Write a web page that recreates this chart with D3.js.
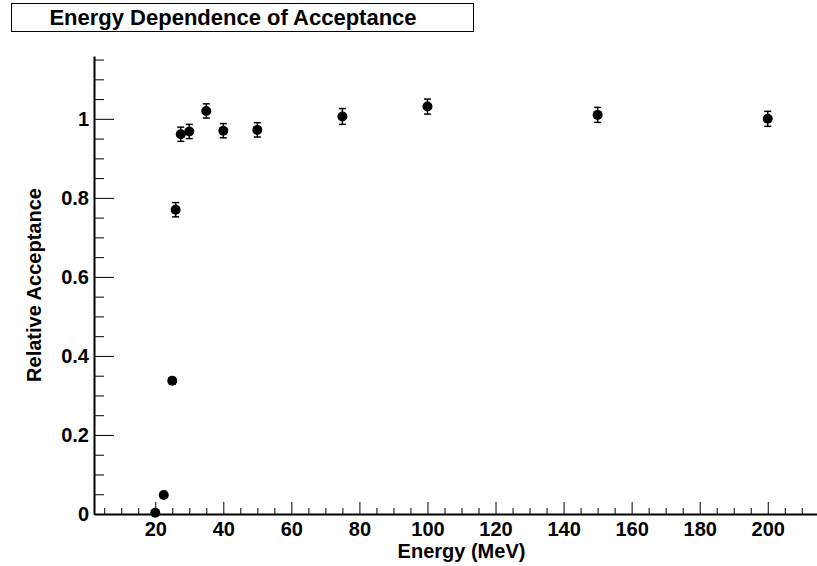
<!DOCTYPE html>
<html>
<head>
<meta charset="utf-8">
<script src="https://cdn.jsdelivr.net/npm/d3@7"></script>
<style>
  body { margin: 0; background: #fff; }
  svg { display: block; font-family: "Liberation Sans", Arial, sans-serif; }
  .axis text { font-size: 20px; font-weight: bold; fill: #000; }
  .axis path, .axis line { stroke: #000; }
</style>
</head>
<body>
<script>
// data
var energy     = [20, 22.5, 25, 26, 27.5, 30, 35, 40, 50, 75, 100, 150, 200];
var acceptance = [0.003, 0.048, 0.337, 0.770, 0.961, 0.968, 1.020, 0.970, 0.972, 1.006, 1.031, 1.010, 1.000];
var accError   = [0.002, 0.004, 0.008, 0.018, 0.018, 0.018, 0.018, 0.018, 0.018, 0.020, 0.019, 0.019, 0.019];

var xTicks = [20, 40, 60, 80, 100, 120, 140, 160, 180, 200];
var yTicks = [0, 0.2, 0.4, 0.6, 0.8, 1];

var width = 817, height = 566;

var svg = d3.select("body").append("svg")
    .attr("width", width)
    .attr("height", height);

var x = d3.scaleLinear().domain([2, 218]).range([94, 829]);
var y = d3.scaleLinear().domain([0, 1.159]).range([514, 56]);

// minor ticks
var xMinor = d3.range(5, 216, 5).filter(function(d) { return d % 20 != 0; });
var yMinor = d3.range(0, 1.16, 0.05).filter(function(d) { return Math.abs(d * 5 - Math.round(d * 5)) > 1e-6; });

svg.append("g")
    .attr("class", "axis")
    .attr("transform", "translate(0," + y(0) + ")")
    .call(d3.axisBottom(x).tickValues(xMinor).tickSize(-6).tickSizeOuter(0).tickFormat(""))
    .call(function(g) { g.select(".domain").remove(); });

svg.append("g")
    .attr("class", "axis")
    .attr("transform", "translate(" + x(2) + ",0)")
    .call(d3.axisLeft(y).tickValues(yMinor).tickSize(-10).tickSizeOuter(0).tickFormat(""))
    .call(function(g) { g.select(".domain").remove(); });

// major ticks + labels
var xAxis = svg.append("g")
    .attr("class", "axis")
    .attr("transform", "translate(0," + y(0) + ")")
    .call(d3.axisBottom(x).tickValues(xTicks).tickSize(-12).tickSizeOuter(0).tickPadding(8));
xAxis.select(".domain").attr("stroke-width", 2);

var yAxis = svg.append("g")
    .attr("class", "axis")
    .attr("transform", "translate(" + x(2) + ",0)")
    .call(d3.axisLeft(y).tickValues(yTicks).tickSize(-20).tickSizeOuter(0).tickPadding(5)
        .tickFormat(function(d) { return d3.format("")(d); }));
yAxis.select(".domain").attr("stroke-width", 2);

// axis titles
svg.append("text")
    .attr("x", (x.range()[0] + x.range()[1]) / 2)
    .attr("y", 558)
    .attr("text-anchor", "middle")
    .style("font-size", "20px")
    .style("font-weight", "bold")
    .text("Energy (MeV)");

svg.append("text")
    .attr("transform", "translate(41," + (y.range()[0] + y.range()[1]) / 2 + ") rotate(-90)")
    .attr("text-anchor", "middle")
    .style("font-size", "20px")
    .style("font-weight", "bold")
    .text("Relative Acceptance");

// points with error bars
var pts = energy.map(function(e, i) { return {e: e, v: acceptance[i], err: accError[i]}; });

var bars = svg.selectAll(".err")
    .data(pts)
    .enter().append("g")
    .attr("class", "err")
    .attr("stroke", "#000")
    .attr("stroke-width", 1.5);

bars.append("line")
    .attr("x1", function(d) { return x(d.e); })
    .attr("x2", function(d) { return x(d.e); })
    .attr("y1", function(d) { return y(d.v - d.err); })
    .attr("y2", function(d) { return y(d.v + d.err); });
bars.append("line")
    .attr("x1", function(d) { return x(d.e) - 3.5; })
    .attr("x2", function(d) { return x(d.e) + 3.5; })
    .attr("y1", function(d) { return y(d.v + d.err); })
    .attr("y2", function(d) { return y(d.v + d.err); });
bars.append("line")
    .attr("x1", function(d) { return x(d.e) - 3.5; })
    .attr("x2", function(d) { return x(d.e) + 3.5; })
    .attr("y1", function(d) { return y(d.v - d.err); })
    .attr("y2", function(d) { return y(d.v - d.err); });

svg.selectAll("circle")
    .data(pts)
    .enter().append("circle")
    .attr("cx", function(d) { return x(d.e); })
    .attr("cy", function(d) { return y(d.v); })
    .attr("r", 5)
    .attr("fill", "#000");

// title box
svg.append("rect")
    .attr("x", 11.5)
    .attr("y", 3.5)
    .attr("width", 462)
    .attr("height", 28)
    .attr("fill", "#fff")
    .attr("stroke", "#000");

svg.append("text")
    .attr("x", 233)
    .attr("y", 25)
    .attr("text-anchor", "middle")
    .style("font-size", "22px")
    .style("font-weight", "bold")
    .text("Energy Dependence of Acceptance");
</script>
</body>
</html>
